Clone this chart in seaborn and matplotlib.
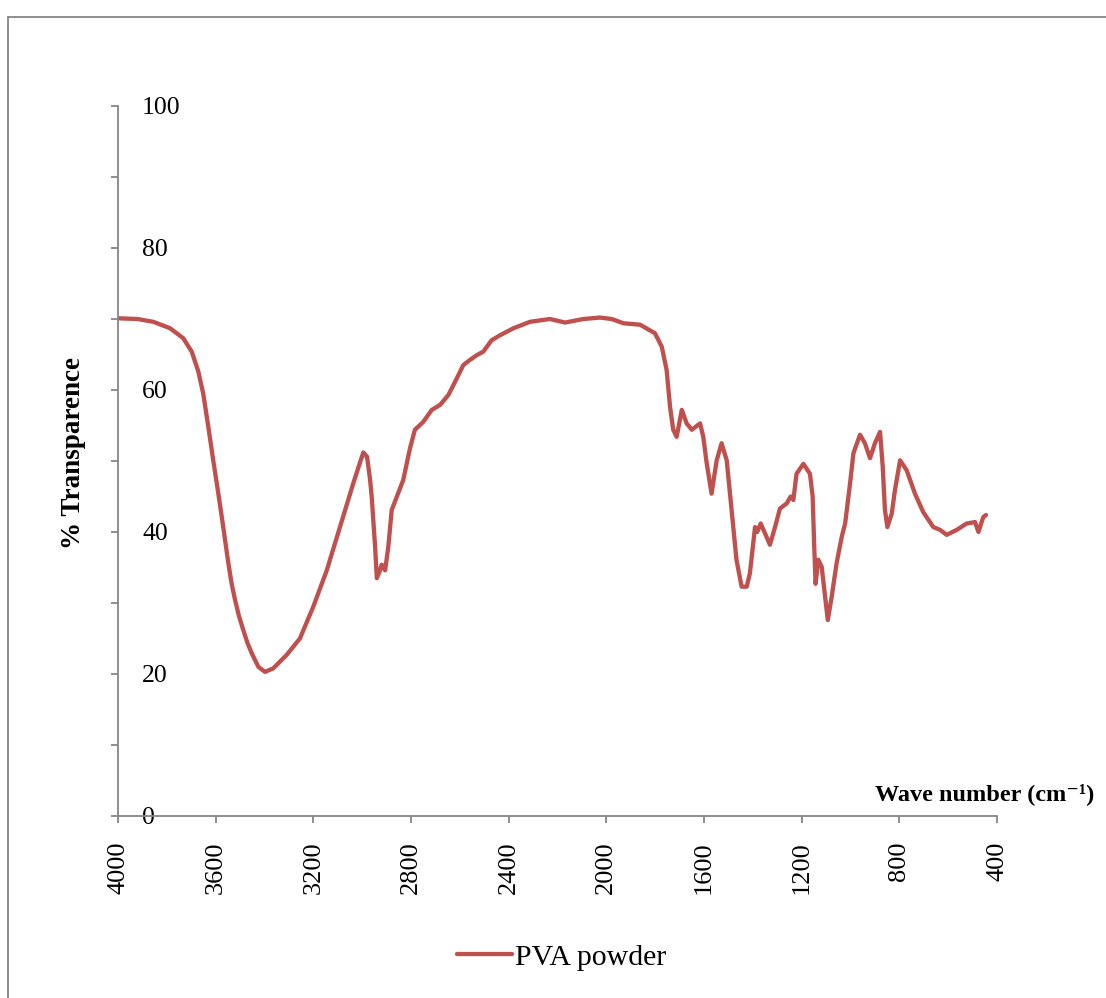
import matplotlib
matplotlib.use("Agg")
import matplotlib.pyplot as plt
from matplotlib.ticker import MultipleLocator
from matplotlib.patches import Rectangle
import seaborn as sns
import pandas as pd

# ---- data ----
wavenumber = [4000, 3920, 3855, 3787, 3733, 3698, 3671, 3651, 3630, 3610, 3589, 3569,
              3548, 3535, 3521, 3505, 3487, 3470, 3452, 3425, 3398, 3364, 3309, 3255,
              3200, 3145, 3091, 3036, 3005, 2995, 2980, 2968, 2961, 2947, 2940, 2928,
              2920, 2906, 2893, 2879, 2859, 2832, 2804, 2784, 2750, 2715, 2681, 2647,
              2613, 2586, 2560, 2531, 2504, 2470, 2436, 2380, 2313, 2231, 2169, 2094,
              2026, 1978, 1930, 1862, 1801, 1773, 1753, 1739, 1726, 1712, 1691, 1671,
              1650, 1616, 1603, 1589, 1569, 1548, 1528, 1507, 1487, 1467, 1446, 1425,
              1412, 1391, 1382, 1368, 1350, 1330, 1309, 1289, 1262, 1245, 1234, 1221,
              1193, 1166, 1155, 1149, 1143, 1132, 1118, 1104, 1093, 1077, 1057, 1036,
              1022, 1002, 988, 961, 941, 920, 900, 879, 868, 859, 849, 831, 818, 797,
              770, 736, 702, 661, 633, 606, 565, 524, 490, 476, 463, 456, 445]
transmittance = [70.1, 70.0, 69.6, 68.7, 67.3, 65.4, 62.6, 59.5, 54.8, 50.1, 45.4, 40.7,
                 35.6, 32.8, 30.5, 28.2, 26.2, 24.4, 22.9, 21.0, 20.3, 20.8, 22.7, 25.0,
                 29.5, 34.6, 40.7, 46.9, 50.2, 51.2, 50.6, 47.5, 45.0, 37.9, 33.5, 34.5,
                 35.4, 34.6, 37.9, 43.1, 44.9, 47.3, 51.8, 54.4, 55.5, 57.2, 57.9, 59.3,
                 61.6, 63.5, 64.2, 64.9, 65.4, 67.0, 67.7, 68.7, 69.6, 70.0, 69.5, 70.0,
                 70.2, 70.0, 69.4, 69.2, 68.0, 66.1, 62.8, 57.6, 54.4, 53.4, 57.2, 55.3,
                 54.4, 55.3, 53.4, 49.7, 45.4, 50.1, 52.5, 50.1, 43.1, 36.1, 32.3, 32.3,
                 34.2, 40.7, 40.0, 41.2, 39.8, 38.2, 40.7, 43.3, 44.0, 45.0, 44.5, 48.2,
                 49.6, 48.2, 45.0, 38.4, 32.7, 36.1, 35.1, 30.9, 27.6, 30.9, 35.6, 39.3,
                 41.2, 46.8, 51.1, 53.7, 52.5, 50.4, 52.5, 54.1, 49.2, 43.1, 40.7, 42.6,
                 45.9, 50.1, 48.7, 45.4, 42.8, 40.7, 40.3, 39.6, 40.3, 41.2, 41.4, 40.0,
                 41.4, 42.1, 42.4]
series_name = "PVA powder"
x_ticks = [4000, 3600, 3200, 2800, 2400, 2000, 1600, 1200, 800, 400]
y_ticks = [0, 20, 40, 60, 80, 100]

# ---- style ----
sns.set_style("white")
plt.rcParams["font.family"] = ["Liberation Serif", "DejaVu Serif"]
plt.rcParams["text.color"] = "black"
plt.rcParams["axes.labelcolor"] = "black"
plt.rcParams["xtick.labelcolor"] = "black"
plt.rcParams["ytick.labelcolor"] = "black"

LINE_COLOR = "#C0504D"
AXIS_COLOR = "#868686"

fig = plt.figure(figsize=(11.06, 9.98), dpi=100)
ax = fig.add_axes([118 / 1106, 1 - 816 / 998, 879 / 1106, 710 / 998])

df = pd.DataFrame({"wavenumber": wavenumber, "transmittance": transmittance})
sns.lineplot(data=df, x="wavenumber", y="transmittance", sort=False, estimator=None,
             color=LINE_COLOR, linewidth=3.1, label=series_name, ax=ax)
for ln in ax.lines:
    ln.set_solid_capstyle("round")
    ln.set_solid_joinstyle("round")

ax.set_xlim(4000, 400)
ax.set_ylim(0, 100)

for side in ["top", "right"]:
    ax.spines[side].set_visible(False)
for side in ["left", "bottom"]:
    ax.spines[side].set_color(AXIS_COLOR)
    ax.spines[side].set_linewidth(1.3)

ax.set_xticks(x_ticks)
ax.set_xticklabels([str(v) for v in x_ticks], rotation=90)
ax.set_yticks(y_ticks)
ax.set_yticklabels([str(v) for v in y_ticks])
ax.yaxis.set_minor_locator(MultipleLocator(10))

ax.tick_params(axis="x", which="major", direction="out", length=5, width=1.3,
               color=AXIS_COLOR, labelcolor="black", labelsize=19, pad=13.5, bottom=True)
ax.tick_params(axis="y", which="both", direction="out", length=5, width=1.3,
               color=AXIS_COLOR, left=True)
ax.tick_params(axis="y", which="major", labelsize=18.5, labelcolor="black", pad=-22.3)
for lbl in ax.get_yticklabels():
    lbl.set_horizontalalignment("left")

ax.set_ylabel("% Transparence", fontsize=19.5, fontweight="bold", color="black")
ax.yaxis.set_label_coords(-0.051, 0.511)
ax.yaxis.label.set_verticalalignment("center")

ax.set_xlabel("Wave number (cm\u207b\u00b9)", fontsize=17.5, fontweight="bold", color="black")
ax.xaxis.set_label_coords(0.861, 0.031)
ax.xaxis.label.set_horizontalalignment("left")
ax.xaxis.label.set_verticalalignment("center")

ax.grid(False)

leg = ax.legend(loc="center", bbox_to_anchor=(0.508, 0.041), bbox_transform=fig.transFigure,
                frameon=False, fontsize=21.5, handlelength=1.85, handletextpad=0.1,
                borderpad=0, labelcolor="black")
for h in leg.get_lines():
    h.set_linewidth(3.1)
    h.set_solid_capstyle("round")

# outer chart-area frame
fig.add_artist(Rectangle((8 / 1106, -0.05), 1.2, 1 - 17 / 998 + 0.05,
                         transform=fig.transFigure, fill=False,
                         edgecolor=AXIS_COLOR, linewidth=1.3))

fig.savefig("out.png", dpi=100)
